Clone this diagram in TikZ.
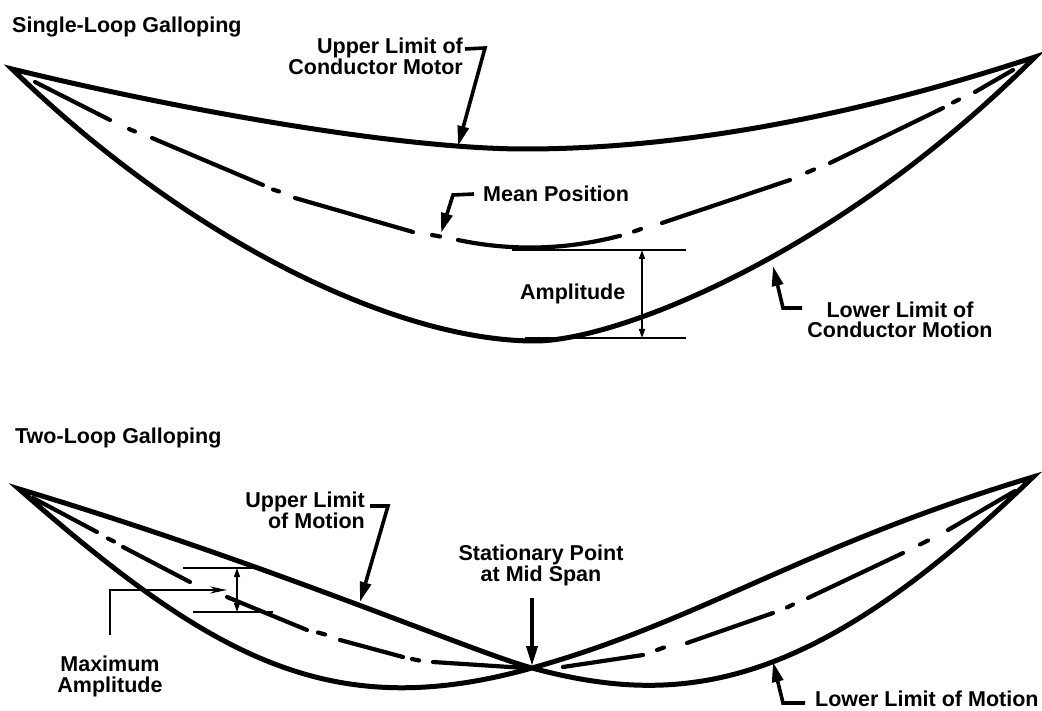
\documentclass[tikz,border=0pt]{standalone}
\usepackage{fontspec}
\setmainfont{Liberation Sans}
\usetikzlibrary{arrows.meta,calc}
\begin{document}
\begin{tikzpicture}[x=1pt,y=-1pt,
  curve/.style={line width=5pt,line join=miter,miter limit=25},
  meanline/.style={line width=4.2pt,line cap=round},
  leader/.style={line width=3.6pt,line join=miter,-{Triangle[length=20pt,width=11pt]}},
  thinline/.style={line width=1.5pt},
  dimarrow/.style={line width=1.5pt,{Triangle[length=9pt,width=6pt]}-{Triangle[length=9pt,width=6pt]}},
  thinleader/.style={line width=1.5pt,-{Stealth[length=17pt,width=7pt]}},
  lbl/.style={font=\fontsize{21.5pt}{20.5pt}\selectfont\bfseries,inner sep=0pt},
]
\fill[white] (0,0) rectangle (1042,711);
\useasboundingbox (0,0) rectangle (1042,711);

% ---------------- Single-loop galloping ----------------
\coordinate (sL) at (12,69);
\coordinate (sR) at (1035,57);
\coordinate (sUp) at (525,149);
\coordinate (sLow) at (535,341);
\draw[curve] (sL) .. controls (180,110) and (400,149) .. (sUp)
  .. controls (700,149) and (880,108) .. (sR)
  .. controls (835,257) and (615,341) .. (sLow)
  .. controls (400,341) and (193,245) .. cycle;

% mean position (dash-dot)
\draw[meanline] (35,82) -- (110,120);
\draw[meanline] (129,129) -- (135,131.5);
\draw[meanline] (152,138) -- (263,185);
\draw[meanline] (273,189.5) -- (279,191.5);
\draw[meanline] (295,198) -- (413,232);
\draw[meanline] (432,235) -- (440,236.5);
\draw[meanline] (458,240) .. controls (512,251.3) and (566,249.9) .. (620,235.8);
\draw[meanline] (634,231.5) -- (641,229);
\draw[meanline] (662,223) -- (790,180);
\draw[meanline] (807,172.5) -- (814,169.5);
\draw[meanline] (830,163) -- (943,108);
\draw[meanline] (953,102.5) -- (959,99.5);
\draw[meanline] (975,92) -- (1013,70);

% amplitude dimension
\coordinate (aTopL) at (512,250);
\coordinate (aTopR) at (686,250);
\coordinate (aBotL) at (525,338);
\coordinate (aBotR) at (686,338);
\coordinate (aArrTop) at (642,250);
\coordinate (aArrBot) at (642,338);
\draw[thinline] (aTopL) -- (aTopR);
\draw[thinline] (aBotL) -- (aBotR);
\draw[dimarrow] (aArrTop) -- (aArrBot);

% labels top
\node[lbl,anchor=base west] (t1) at (12,33) {Single-Loop Galloping};
\node[lbl,anchor=north east,align=right] (ul1) at (463,38) {Upper Limit of\\Conductor Motor};
\node[lbl,anchor=base west] (mp) at (483,201.5) {Mean Position};
\node[lbl,anchor=base west] (amp) at (520,299.5) {Amplitude};
\node[lbl,anchor=north,align=center] (ll1) at (900,301.5) {Lower Limit of\\Conductor Motion};

\coordinate (ul1bend) at (485,48);
\coordinate (ul1tip) at (458,146);
\draw[leader] ($(ul1.north east)+(2,11)$) -- (ul1bend) -- (ul1tip);
\coordinate (mpbend) at (453,195);
\coordinate (mptip) at (441,233);
\draw[leader] ($(mp.base west)+(-9,-7.5)$) -- (mpbend) -- (mptip);
\coordinate (ll1bend) at (783,308);
\coordinate (ll1tip) at (773,266);
\draw[leader] ($(ll1.north)+(-98,6.5)$) -- (ll1bend) -- (ll1tip);

% ---------------- Two-loop galloping ----------------
\coordinate (tL) at (19,489);
\coordinate (tR) at (1033,477);
\coordinate (tX) at (532,668);
\draw[curve] (tL) .. controls (269,564) and (472,651.8) .. (tX)
  .. controls (682,708.5) and (813,690.4) .. (tR)
  .. controls (803,546) and (702,620.4) .. (tX)
  .. controls (332,724) and (214,660) .. cycle;

% mean lines
\draw[meanline] (33,498) -- (97,532);
\draw[meanline] (108,538.5) -- (114,541.5);
\draw[meanline] (123,547) -- (190,582);
\draw[meanline] (227,597) -- (307,630);
\draw[meanline] (318,632.5) -- (325,634.5);
\draw[meanline] (340,640) -- (403,657);
\draw[meanline] (412,659) -- (419,660.5);
\draw[meanline] (433,662) -- (525,668);
\draw[meanline] (563,667) -- (643,655);
\draw[meanline] (657,650) -- (664,647.5);
\draw[meanline] (687,643) -- (773,613);
\draw[meanline] (787,607.5) -- (793,604.5);
\draw[meanline] (808,598) -- (903,553);
\draw[meanline] (920,544.5) -- (928,540.5);
\draw[meanline] (948,530) -- (1015,491);

% maximum amplitude dimension
\coordinate (mTopL) at (183,568);
\coordinate (mTopR) at (260,568);
\coordinate (mBotL) at (193,612);
\coordinate (mBotR) at (273,612);
\coordinate (mArrTop) at (237,568);
\coordinate (mArrBot) at (237,612);
\draw[thinline] (mTopL) -- (mTopR);
\draw[thinline] (mBotL) -- (mBotR);
\draw[dimarrow] (mArrTop) -- (mArrBot);

% labels bottom
\node[lbl,anchor=base west] (t2) at (15,443) {Two-Loop Galloping};
\node[lbl,anchor=north east,align=right] (ul2) at (365,492) {Upper Limit\\of Motion};
\node[lbl,anchor=north,align=center] (sp) at (541,545) {Stationary Point\\at Mid Span};
\node[lbl,anchor=north,align=center] (ma) at (110,656) {Maximum\\Amplitude};
\node[lbl,anchor=base west] (ll2) at (815,706.5) {Lower Limit of Motion};

\coordinate (ul2bend) at (388,506);
\coordinate (ul2tip) at (360,602);
\draw[leader] ($(ul2.north east)+(5,14)$) -- (ul2bend) -- (ul2tip);
\coordinate (sptip) at (532,666);
\draw[leader] ($(sp.south)+(-9,12)$) -- (sptip);
\coordinate (ll2bend) at (783,703);
\coordinate (ll2tip) at (773,662);
\draw[leader] ($(ll2.base west)+(-10,-3.5)$) -- (ll2bend) -- (ll2tip);
\coordinate (mabend) at (110,590);
\coordinate (matip) at (227,590);
\draw[thinleader] ($(ma.north)+(0,-21)$) -- (mabend) -- (matip);
\end{tikzpicture}
\end{document}
